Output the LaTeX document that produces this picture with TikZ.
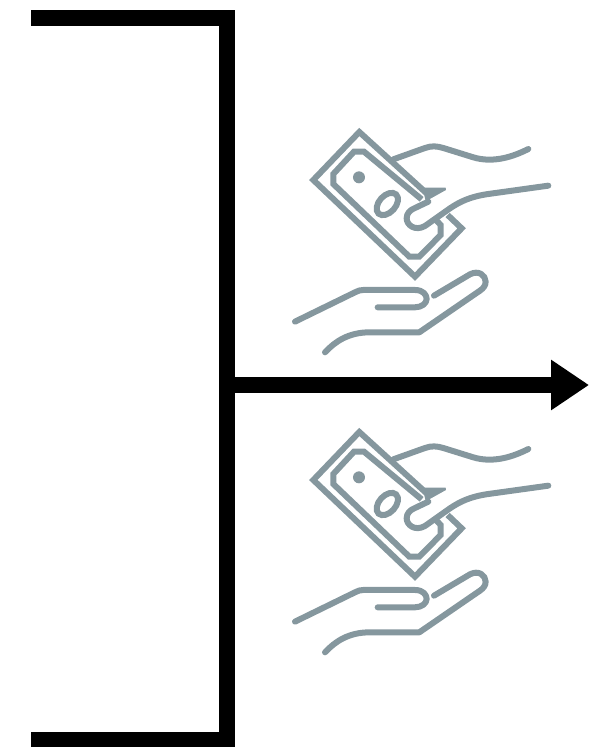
\documentclass[tikz,border=0pt]{standalone}
\usepackage{tikz}
\usetikzlibrary{arrows.meta}
\definecolor{handgray}{HTML}{85979E}
\tikzset{
    bracketline/.style={line width=16pt, black},
    iconline/.style={line width=6pt, handgray, line cap=round, line join=round},
    billline/.style={line width=6pt, handgray, line join=miter}
}

\begin{document}
\begin{tikzpicture}[x=1pt, y=-1pt]
    \useasboundingbox (0,0) rectangle (589,747);

    % Bracket
    \coordinate (TL) at (31,18);
    \coordinate (TR) at (227,18);
    \coordinate (BR) at (227,739.5);
    \coordinate (BL) at (31,739.5);
    \draw[bracketline] (TL) -- (TR) -- (BR) -- (BL);

    % Output arrow
    \coordinate (M) at (219,385);
    \coordinate (E) at (589,385);
    \draw[bracketline, -{Triangle[length=38pt, width=48pt]}] (M) -- (E);

    % Money icons
    \foreach \y in {120,420} {
        \begin{scope}[shift={(280,\y)}, scale=0.3333]
            % Bill
            \draw[billline] (440,220) -- (238,36) -- (100,180) -- (405,470) -- (545,325) -- (503,285);
            \draw[billline] (425,238) -- (252,95) -- (222,95) -- (160,162) -- (160,192) -- (388,410) -- (418,410) -- (482,345) -- (482,315) -- (468,300);
            \fill[handgray] (237,172) circle (18);
            \draw[billline, rotate around={48:(322,252)}] (322,252) ellipse (39 and 25);

            % Upper hand
            \draw[iconline] (340,118) -- (435,84) .. controls (455,77) and (470,78) .. (490,84) -- (580,112) .. controls (640,130) and (700,110) .. (745,87);
            \fill[handgray] (428,203) -- (497,203) -- (498,210) -- (437,244) -- cycle;
            \draw[iconline] (805,197) -- (625,222) .. controls (570,230) and (540,245) .. (510,265) -- (435,318) .. controls (405,335) and (380,315) .. (380,295) .. controls (380,280) and (390,270) .. (405,264) -- (445,245);

            % Lower hand
            \draw[iconline] (45,605) -- (225,517) .. controls (235,512) and (240,510) .. (250,510) -- (405,510) .. controls (430,510) and (440,525) .. (440,537) .. controls (440,550) and (425,562) .. (405,562) -- (293,562);
            \draw[iconline] (462,527) -- (570,463) .. controls (595,450) and (617,465) .. (617,485) .. controls (617,497) and (610,505) .. (600,512) -- (418,637) -- (270,637) .. controls (205,637) and (165,665) .. (135,697);
        \end{scope}
    }
\end{tikzpicture}
\end{document}
